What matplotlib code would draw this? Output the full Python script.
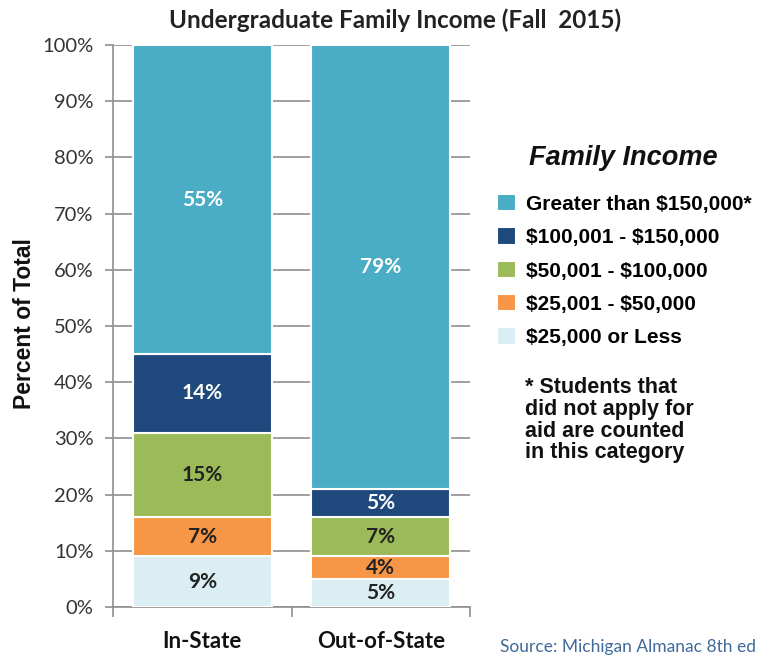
import matplotlib.pyplot as plt
from matplotlib.ticker import FixedLocator

plt.rcParams['font.family'] = ['Lato', 'DejaVu Sans']

categories = ["In-State", "Out-of-State"]
brackets = [r"\$25,000 or Less", r"\$25,001 - \$50,000", r"\$50,001 - \$100,000",
            r"\$100,001 - \$150,000", r"Greater than \$150,000*"]
# percent of total, bottom bracket first
in_state = [9, 7, 15, 14, 55]
out_state = [5, 4, 7, 5, 79]
colors = ["#DAEEF3", "#F79646", "#9BBB59", "#1F497D", "#4BACC6"]
label_colors = ["#222222", "#222222", "#222222", "white", "white"]

W, H = 764, 658
fig = plt.figure(figsize=(W / 100, H / 100), dpi=100)
ax = fig.add_axes([113 / W, 1 - 607 / H, (470 - 113) / W, (607 - 45) / H])

grid_c = "#8f8f8f"
x = [0, 1]
bottom = [0, 0]
containers = []
for i, name in enumerate(brackets):
    vals = [in_state[i], out_state[i]]
    bars = ax.bar(x, vals, width=0.78, bottom=bottom, color=colors[i],
                  edgecolor="white", linewidth=1.5, label=name, zorder=3)
    ax.bar_label(bars, labels=[f"{v}%" for v in vals], label_type="center",
                 color=label_colors[i], fontsize=15, fontweight="bold")
    containers.append(bars)
    bottom = [b + v for b, v in zip(bottom, vals)]

ax.set_xlim(-0.5, 1.5)
ax.set_ylim(0, 100)
ax.set_yticks(range(0, 101, 10))
ax.set_yticklabels([f"{t}%" for t in range(0, 101, 10)], fontsize=14.5, color="#333333")
ax.set_xticks(x)
ax.set_xticklabels(categories, fontsize=16, fontweight="bold", color="#111111")
ax.xaxis.set_minor_locator(FixedLocator([-0.5, 0.5, 1.5]))
ax.tick_params(axis="x", which="major", length=0, pad=17)
ax.tick_params(axis="x", which="minor", length=7.5, color=grid_c, width=1.2)
ax.tick_params(axis="y", length=6, color=grid_c, width=1.2, pad=8)
ax.yaxis.grid(True, color=grid_c, linewidth=1.2, zorder=0)
ax.set_axisbelow(True)
for s in ["top", "right"]:
    ax.spines[s].set_visible(False)
for s in ["left", "bottom"]:
    ax.spines[s].set_color(grid_c)
    ax.spines[s].set_linewidth(1.2)

fig.text(395 / W, 1 - 20 / H, "Undergraduate Family Income (Fall  2015)",
         ha="center", va="center", fontsize=17.5, fontweight="bold", color="#222222")
fig.text(25 / W, 1 - 324 / H, "Percent of Total", rotation=90, ha="center", va="center",
         fontsize=16.5, fontweight="bold", family="Liberation Sans", color="#111111")

# legend title drawn separately to keep the reference's gap above the rows
fig.text(623 / W, 1 - 158 / H, "Family Income", ha="center", va="center",
         fontsize=19.5, fontweight="bold", style="italic", family="Liberation Sans",
         color="#111111")
fig.legend(handles=containers[::-1], loc="upper left",
           bbox_to_anchor=(497 / W, 1 - 194 / H), frameon=False,
           prop={"family": "Liberation Sans", "weight": "bold", "size": 15},
           handlelength=0.9, handleheight=0.9, handletextpad=0.5,
           labelspacing=0.65, borderaxespad=0, borderpad=0)

fig.text(525 / W, 1 - 377 / H,
         "* Students that\ndid not apply for\naid are counted\nin this category",
         ha="left", va="top", fontsize=15.5, fontweight="bold",
         family="Liberation Sans", linespacing=1.05, color="#111111")
fig.text(500 / W, 1 - 647 / H, "Source: Michigan Almanac 8th ed", ha="left",
         va="center", fontsize=12.5, color="#3F6A9A")

fig.savefig("out.png", dpi=100)
